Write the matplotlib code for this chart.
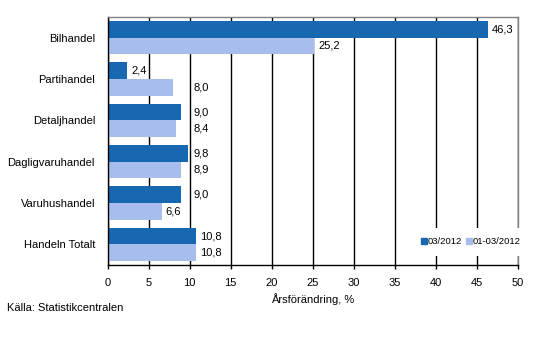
import numpy as np
import matplotlib.pyplot as plt
from matplotlib.lines import Line2D

plt.rcParams['font.family'] = ['Liberation Sans', 'DejaVu Sans']

categories = ['Bilhandel', 'Partihandel', 'Detaljhandel', 'Dagligvaruhandel',
              'Varuhushandel', 'Handeln Totalt']
month = [46.3, 2.4, 9.0, 9.8, 9.0, 10.8]        # 03/2012
period = [25.2, 8.0, 8.4, 8.9, 6.6, 10.8]       # 01-03/2012
series_names = ['03/2012', '01-03/2012']
xticks = np.arange(0, 51, 5)

dark = '#1767b1'
light = '#a7bdec'

fig = plt.figure(figsize=(5.33, 3.59), dpi=100)
ax = fig.add_axes([107.5 / 533, 1 - 265 / 359, 410.5 / 533, 248 / 359])

y = np.arange(len(categories))
h = 0.4
ax.barh(y - h / 2, month, h, color=dark, zorder=2)
ax.barh(y + h / 2, period, h, color=light, zorder=2)

def fmt(v):
    return ('%.1f' % v).replace('.', ',')

def label_x(v):
    # labels that would sit on the next gridline are pushed past it
    nxt = np.ceil(v / 5) * 5
    if 0 < nxt - v <= 2.5:
        return nxt
    return v

for yy, vals in ((y - h / 2, month), (y + h / 2, period)):
    for yi, v in zip(yy, vals):
        ax.annotate(fmt(v), (label_x(v), yi), xytext=(3, 0),
                    textcoords='offset points', va='center', ha='left',
                    fontsize=8)

ax.set_xlim(0, 50)
ax.set_ylim(len(categories) - 0.5, -0.5)
ax.set_xticks(xticks)
ax.set_xticklabels([str(t) for t in xticks], fontsize=8)
ax.set_yticks(y)
ax.set_yticklabels(categories, fontsize=8)
ax.tick_params(axis='y', length=0, pad=9)
ax.tick_params(axis='x', length=3, width=1, color='black', pad=6)
ax.xaxis.grid(True, color='black', linewidth=1)
ax.set_axisbelow(True)

for side in ['top', 'right']:
    ax.spines[side].set_color('#808080')
    ax.spines[side].set_linewidth(1)
for side in ['left', 'bottom']:
    ax.spines[side].set_color('black')
    ax.spines[side].set_linewidth(1)

ax.set_xlabel('Årsförändring, %', fontsize=8, labelpad=4)

handles = [Line2D([], [], marker='s', color=c, linestyle='none', markersize=4)
           for c in (dark, light)]
leg = ax.legend(handles, series_names, loc='center', bbox_to_anchor=(0.885, 0.093),
                ncol=2, fontsize=6.8, frameon=True, framealpha=1, edgecolor='white',
                fancybox=False, handlelength=0.6, handletextpad=0.1,
                columnspacing=0.4, borderpad=1.0)
leg.get_frame().set_linewidth(0)

fig.text(7 / 533, 1 - 308 / 359, 'Källa: Statistikcentralen', fontsize=8,
         va='center', ha='left')

fig.savefig('out.png', dpi=100)
